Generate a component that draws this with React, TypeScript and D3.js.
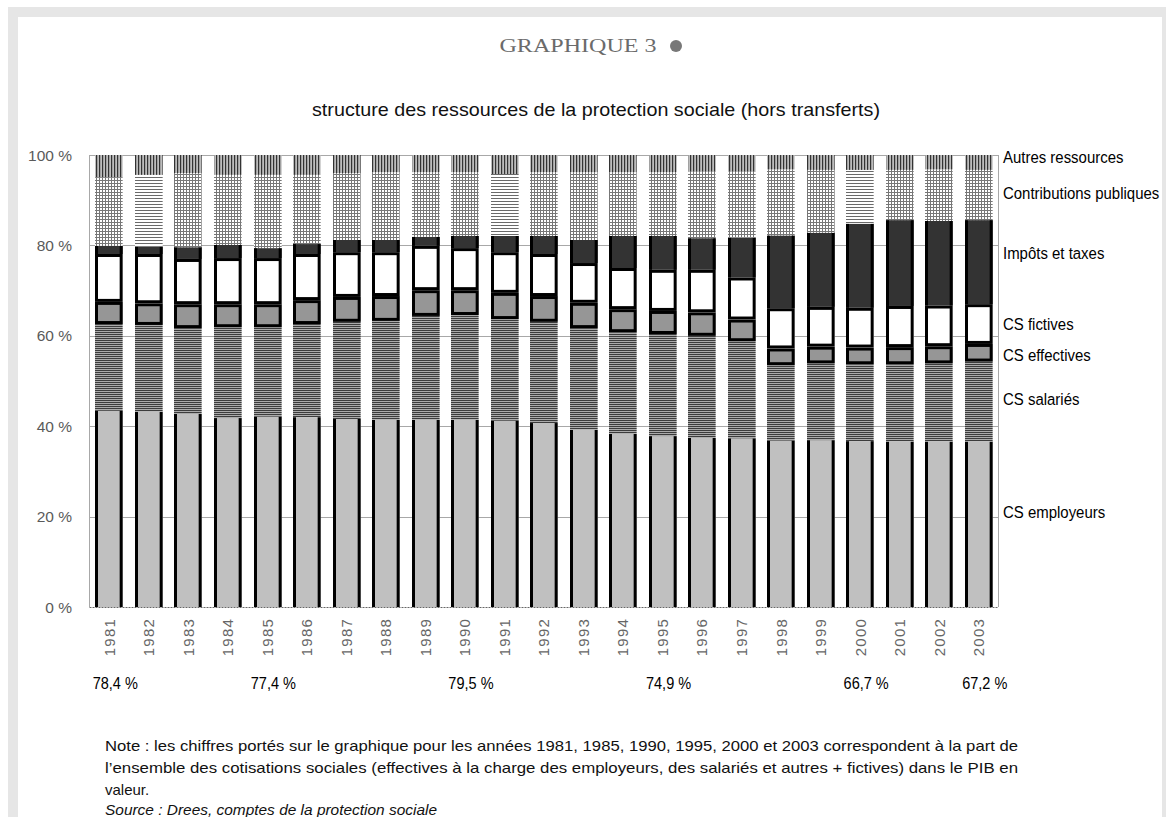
import React from 'react';
import * as d3 from 'd3';

// Data (shares in % of total resources)
const years = ['1981', '1982', '1983', '1984', '1985', '1986', '1987', '1988', '1989', '1990', '1991', '1992',
  '1993', '1994', '1995', '1996', '1997', '1998', '1999', '2000', '2001', '2002', '2003'];

const csEmployeurs = [43.4, 43.2, 42.7, 41.8, 42.1, 42.0, 41.6, 41.4, 41.4, 41.4, 41.2, 40.7,
  39.2, 38.3, 37.8, 37.4, 37.3, 36.8, 36.9, 36.7, 36.6, 36.6, 36.6];
const csSalaries = [19.2, 19.2, 19.0, 20.1, 19.8, 20.6, 21.5, 21.9, 23.0, 23.2, 22.5, 22.4,
  22.5, 22.5, 22.6, 22.6, 21.5, 16.7, 17.0, 17.0, 17.1, 17.3, 17.7];
const csEffectives = [4.9, 4.8, 5.3, 5.1, 5.1, 5.3, 5.5, 5.5, 5.7, 5.5, 5.8, 5.7,
  5.6, 5.1, 5.1, 5.2, 4.8, 3.7, 3.7, 3.7, 3.8, 3.8, 3.9];
const csFictives = [10.6, 10.9, 10.0, 10.2, 10.2, 10.2, 9.9, 9.7, 9.8, 9.3, 9.0, 9.3,
  8.8, 9.1, 9.1, 9.4, 9.3, 8.9, 8.8, 8.8, 9.1, 9.0, 8.8];
const impotsTaxes = [1.8, 1.6, 2.6, 2.9, 2.2, 2.2, 2.7, 2.7, 2.0, 2.7, 3.6, 4.0,
  5.1, 7.1, 7.5, 7.0, 8.8, 16.1, 16.4, 18.6, 19.0, 18.7, 18.6];
const contributionsPubliques = [15.2, 15.9, 16.4, 15.5, 16.2, 15.3, 14.8, 15.0, 14.3, 14.1, 13.7, 14.1,
  15.0, 14.1, 14.1, 14.7, 14.6, 14.6, 13.9, 11.9, 11.1, 11.4, 11.1];
const autresRessources = [4.9, 4.4, 4.0, 4.4, 4.4, 4.4, 4.0, 3.8, 3.8, 3.8, 4.2, 3.8,
  3.8, 3.8, 3.8, 3.7, 3.7, 3.2, 3.3, 3.3, 3.3, 3.2, 3.3];

const seriesKeys = ['emp', 'sal', 'eff', 'fic', 'imp', 'con', 'aut'];
const seriesNames = ['CS employeurs', 'CS salariés', 'CS effectives', 'CS fictives',
  'Impôts et taxes', 'Contributions publiques', 'Autres ressources'];

const yTicks = [0, 20, 40, 60, 80, 100];

// share of all social contributions in GDP, printed under some years
const pibYears = ['1981', '1985', '1990', '1995', '2000', '2003'];
const pibLabels = ['78,4 %', '77,4 %', '79,5 %', '74,9 %', '66,7 %', '67,2 %'];

const noteLines = [
  'Note  : les chiffres portés sur le graphique pour les années 1981, 1985, 1990, 1995, 2000 et 2003  correspondent à la part de',
  'l’ensemble des cotisations sociales (effectives à la charge des employeurs, des salariés et autres + fictives) dans le PIB en',
  'valeur.',
];
const sourceLine = 'Source  : Drees, comptes de la protection sociale';

const W = 1166;
const H = 817;
const SANS = "'Liberation Sans', Arial, sans-serif";

// no narrow font installed: squeeze the regular one horizontally instead
const Narrow: React.FC<{ x: number; y: number; sx?: number; size: number; anchor?: string; fill?: string;
  italic?: boolean; children: React.ReactNode }> = ({ x, y, sx = 0.86, size, anchor = 'start', fill = '#000', italic, children }) => (
  <text transform={`translate(${x},${y}) scale(${sx},1)`} textAnchor={anchor} fontFamily={SANS} fontSize={size}
    fill={fill} fontStyle={italic ? 'italic' : undefined}>{children}</text>
);

const App: React.FC = () => {
  const rows = years.map((year, i) => ({
    year,
    emp: csEmployeurs[i],
    sal: csSalaries[i],
    eff: csEffectives[i],
    fic: csFictives[i],
    imp: impotsTaxes[i],
    con: contributionsPubliques[i],
    aut: autresRessources[i],
  }));

  const stacked = d3.stack<any>().keys(seriesKeys)(rows);

  const x = d3.scaleBand().domain(years).range([89.5, 998.5]).paddingInner(0.3).paddingOuter(0.15);
  const y = d3.scaleLinear().domain([0, 100]).range([607, 155]);
  const bw = x.bandwidth();

  const fills: Record<string, string> = {
    emp: '#c0c0c0',
    sal: 'url(#pSal)',
    eff: '#969696',
    fic: '#ffffff',
    imp: '#333333',
    con: 'url(#pCon)',
    aut: 'url(#pAut)',
  };

  // contributions publiques look like plain horizontal hatching on these bars
  const hatchOnly = ['1982', '1991', '2000'];

  // legend labels sit beside the last bar, nudged like in the source
  const lastStack = stacked.map(s => s[s.length - 1]);
  const legendNudge = [-12, -3, 2, 0, -9, -2, -5];

  return (
    <svg width={W} height={H} style={{ position: 'absolute', left: 0, top: 0, background: '#fff' }}>
      <defs>
        <pattern id="pSal" width="4" height="2" patternUnits="userSpaceOnUse">
          <rect width="4" height="2" fill="#aaaaaa" />
          <rect width="4" height="1" fill="#3c3c3c" />
        </pattern>
        <pattern id="pCon" width="3" height="3" patternUnits="userSpaceOnUse">
          <rect width="3" height="3" fill="#ffffff" />
          <rect width="3" height="1" fill="#777777" />
          <rect width="1" height="3" fill="#777777" />
        </pattern>
        <pattern id="pConH" width="3" height="3" patternUnits="userSpaceOnUse">
          <rect width="3" height="3" fill="#ffffff" />
          <rect width="3" height="1" fill="#6a6a6a" />
        </pattern>
        <pattern id="pAut" width="3" height="3" patternUnits="userSpaceOnUse">
          <rect width="3" height="3" fill="#bdbdbd" />
          <rect width="1.2" height="3" fill="#333" />
        </pattern>
      </defs>

      {/* frame */}
      <rect x={8} y={7} width={W - 8} height={H - 7} fill="#e6e6e6" />
      <rect x={18} y={17} width={1162 - 18} height={H - 17} fill="#ffffff" />

      {/* headings */}
      <text x={578} y={52} textAnchor="middle" fontFamily="'Liberation Serif', 'Times New Roman', serif"
        fontSize={18} fill="#6b6b6b" textLength={157} lengthAdjust="spacingAndGlyphs">GRAPHIQUE 3</text>
      <circle cx={676} cy={46} r={6} fill="#787878" />
      <text x={596} y={116} textAnchor="middle" fontFamily={SANS} fontSize={19} fill="#111"
        textLength={568} lengthAdjust="spacingAndGlyphs">
        structure des ressources de la protection sociale (hors transferts)
      </text>

      {/* grid */}
      {yTicks.filter(t => t > 0).map(t => (
        <line key={t} x1={89.5} x2={998.5} y1={Math.round(y(t)) + 0.5} y2={Math.round(y(t)) + 0.5}
          stroke="#a8a8a8" strokeWidth={1} />
      ))}
      <line x1={89.5} x2={89.5} y1={155} y2={607} stroke="#a8a8a8" />
      <line x1={998.5} x2={998.5} y1={155} y2={607} stroke="#a8a8a8" />

      {/* bars */}
      {stacked.map(s => (
        <g key={s.key}>
          {s.map((d, i) => {
            const key = s.key as string;
            const x0 = Math.round(x(years[i]) as number);
            const top = y(d[1]);
            const bot = y(d[0]);
            let fill = fills[key];
            if (key === 'con' && hatchOnly.includes(years[i])) fill = 'url(#pConH)';
            return (
              <g key={i}>
                <rect x={x0} y={top} width={bw} height={bot - top} fill={fill} />
                {(key === 'eff' || key === 'fic') && (
                  <rect x={x0 + 1.5} y={top + 1.5} width={bw - 3} height={Math.max(0, bot - top - 3)}
                    fill="none" stroke="#000" strokeWidth={3} />
                )}
                {(key === 'emp' || key === 'imp') && (
                  <>
                    <line x1={x0 + 1.5} x2={x0 + 1.5} y1={top} y2={bot} stroke="#000" strokeWidth={3} />
                    <line x1={x0 + bw - 1.5} x2={x0 + bw - 1.5} y1={top} y2={bot} stroke="#000" strokeWidth={3} />
                  </>
                )}
              </g>
            );
          })}
        </g>
      ))}

      {/* baseline */}
      <line x1={89.5} x2={998.5} y1={607.5} y2={607.5} stroke="#666" strokeDasharray="2,1" />

      {/* y axis labels */}
      {yTicks.map(t => (
        <text key={t} x={72} y={y(t)} dy="0.36em" textAnchor="end" fontFamily={SANS}
          fontSize={15.5} fill="#5a5a5a">{`${t} %`}</text>
      ))}

      {/* year labels */}
      {years.map(yr => (
        <text key={yr} transform={`translate(${(x(yr) as number) + bw / 2},618) rotate(-90)`} dy="0.36em"
          textAnchor="end" fontFamily={SANS} fontSize={15} letterSpacing={1.2} fill="#666">{yr}</text>
      ))}

      {/* share of contributions in GDP */}
      {pibYears.map((yr, i) => (
        <Narrow key={yr} x={(x(yr) as number) + bw / 2 + 6} y={689} size={16.5} sx={0.88} anchor="middle">
          {pibLabels[i]}
        </Narrow>
      ))}

      {/* legend labels on the right */}
      {seriesNames.map((name, i) => {
        const d = lastStack[i];
        const yc = y((d[0] + d[1]) / 2) + legendNudge[i];
        return (
          <Narrow key={name} x={1003} y={yc + 6} size={17} sx={0.88}>{name}</Narrow>
        );
      })}

      {/* note and source */}
      {noteLines.map((line, i) => (
        <text key={i} x={105} y={750.5 + i * 22.3} fontFamily={SANS} fontSize={15} fill="#111"
          textLength={i < 2 ? 913 : undefined} lengthAdjust="spacingAndGlyphs">{line}</text>
      ))}
      <text x={105} y={815} fontFamily={SANS} fontSize={14} fontStyle="italic" fill="#111"
        textLength={332} lengthAdjust="spacingAndGlyphs">{sourceLine}</text>
    </svg>
  );
};

export default App;
